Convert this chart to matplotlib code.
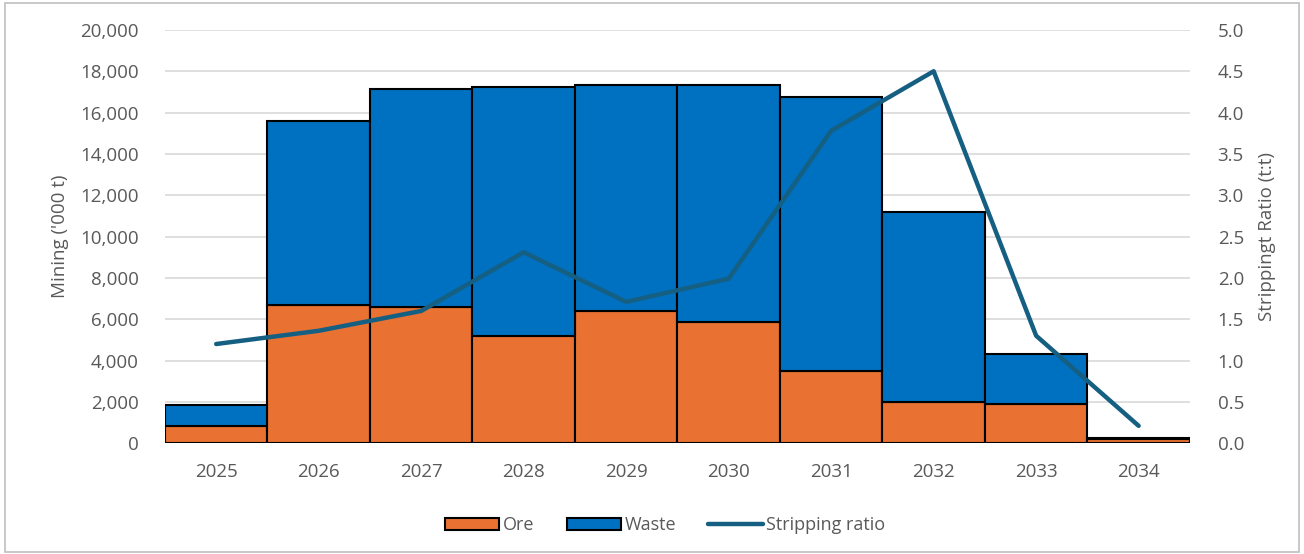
import matplotlib.pyplot as plt
import matplotlib.ticker as mticker
from matplotlib.patches import Rectangle
import numpy as np

plt.rcParams['font.family'] = ['Open Sans', 'DejaVu Sans']

# data ('000 t)
years = ['2025', '2026', '2027', '2028', '2029', '2030', '2031', '2032', '2033', '2034']
ore = [820, 6680, 6590, 5180, 6390, 5860, 3490, 1990, 1880, 200]
waste = [1020, 8910, 10550, 12060, 10950, 11480, 13270, 9200, 2420, 40]
strip_ratio = [1.20, 1.36, 1.60, 2.31, 1.71, 1.99, 3.78, 4.50, 1.30, 0.21]

grey = '#595959'
x = np.arange(len(years))

fig = plt.figure(figsize=(13.04, 5.54), dpi=100)
ax = fig.add_axes([0.1265, 0.2, 0.786, 0.746])

# 柱状图，堆叠
ax.bar(x, ore, width=1.0, color='#E97132', edgecolor='black', linewidth=1.5, label='Ore', zorder=2)
ax.bar(x, waste, width=1.0, bottom=ore, color='#0070C0', edgecolor='black', linewidth=1.5, label='Waste', zorder=2)

ax.set_xlim(-0.5, len(years) - 0.5)
ax.set_ylim(0, 20000)
ax.set_yticks(np.arange(0, 20001, 2000))
ax.yaxis.set_major_formatter(mticker.FuncFormatter(lambda v, p: f'{int(v):,}'))
ax.set_xticks(x)
ax.set_xticklabels(years)
ax.grid(axis='y', color='#D9D9D9', linewidth=1.2, zorder=0)
ax.set_axisbelow(True)
for s in ax.spines.values():
    s.set_visible(False)
ax.tick_params(length=0, labelsize=13.5, colors=grey, pad=19)
ax.tick_params(axis='x', pad=14)
ax.set_ylabel("Mining ('000 t)", fontsize=13.5, color=grey, labelpad=8)

# 右轴，剥采比
ax2 = ax.twinx()
ax2.plot(x, strip_ratio, color='#156082', linewidth=3.2, solid_capstyle='round',
         label='Stripping ratio', zorder=3)
ax2.set_ylim(0, 5)
ax2.set_yticks(np.arange(0, 5.01, 0.5))
ax2.yaxis.set_major_formatter(mticker.FormatStrFormatter('%.1f'))
for s in ax2.spines.values():
    s.set_visible(False)
ax2.tick_params(length=0, labelsize=13.5, colors=grey, pad=20)
ax2.set_ylabel('Strippingt Ratio (t:t)', fontsize=13.5, color=grey, labelpad=10)

h1, l1 = ax.get_legend_handles_labels()
h2, l2 = ax2.get_legend_handles_labels()
fig.legend(h1 + h2, l1 + l2, loc='center', bbox_to_anchor=(0.51, 0.052), ncol=3,
           frameon=False, fontsize=13, labelcolor=grey, handlelength=3.0,
           handletextpad=0.2, columnspacing=1.8)

# 外框
fig.patches.append(Rectangle((0.004, 0.004), 0.992, 0.99, transform=fig.transFigure,
                             fill=False, edgecolor='#BFBFBF', linewidth=1.2))

fig.savefig('out.png', dpi=100)
